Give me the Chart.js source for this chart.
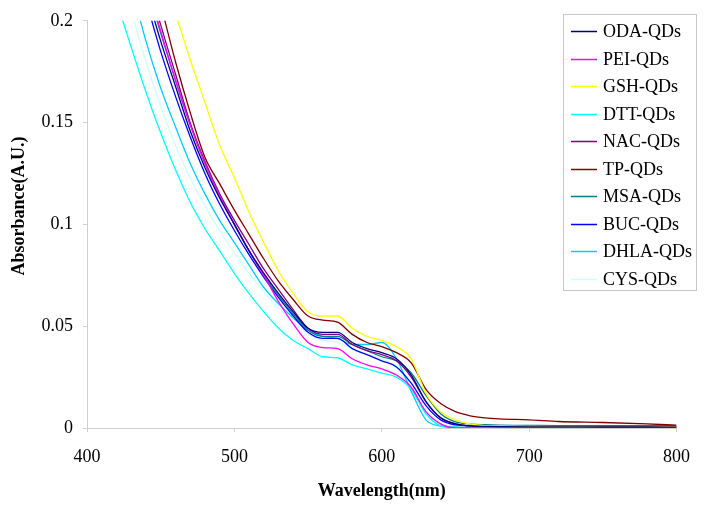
<!DOCTYPE html>
<html>
<head>
  <meta charset="UTF-8">
  <title>QDs absorbance</title>
  <script src="https://cdn.jsdelivr.net/npm/chart.js"></script>
  <style>
    body { margin: 0; background: #fff; }
    #wrap { width: 704px; height: 509px; }
  </style>
</head>
<body>
  <div id="wrap"><canvas id="chart" width="704" height="509"></canvas></div>

  <script>
    // wavelengths (nm) the curves were read at
    const wavelengths = [420, 430, 440, 450, 460, 470, 480, 490, 500, 510, 520, 530, 540, 550, 560, 570,
                         580, 590, 600, 610, 620, 630, 640, 650, 660, 670, 680, 700, 720, 750, 780, 800];

    const odaQDs  = [0.27, 0.24, 0.215, 0.19, 0.168, 0.146, 0.128, 0.113, 0.1, 0.087, 0.076, 0.066, 0.057, 0.049, 0.047, 0.047,
                     0.042, 0.039, 0.037, 0.034, 0.026, 0.013, 0.005, 0.002, 0.001, 0.0008, 0.0007, 0.0006, 0.0006, 0.0005, 0.0005, 0.0004];
    const peiQDs  = [0.28, 0.245, 0.22, 0.195, 0.171, 0.149, 0.13, 0.114, 0.1, 0.087, 0.075, 0.062, 0.051, 0.042, 0.0395, 0.039,
                     0.034, 0.031, 0.029, 0.026, 0.02, 0.008, 0.002, 0, 0, 0, 0, 0, 0, 0, 0, 0];
    const gshQDs  = [0.32, 0.285, 0.255, 0.228, 0.204, 0.181, 0.16, 0.139, 0.123, 0.106, 0.091, 0.077, 0.066, 0.057, 0.055, 0.055,
                     0.049, 0.045, 0.043, 0.04, 0.034, 0.017, 0.008, 0.004, 0.002, 0.0012, 0.001, 0.0008, 0.0007, 0.0006, 0.0005, 0.0005];
    const dttQDs  = [0.21, 0.187, 0.165, 0.145, 0.127, 0.111, 0.098, 0.087, 0.076, 0.066, 0.057, 0.049, 0.043, 0.039, 0.035, 0.0345,
                     0.031, 0.029, 0.027, 0.025, 0.019, 0.007, 0.001, 0, 0, 0, 0, 0, 0, 0, 0, 0];
    const nacQDs  = [0.28, 0.25, 0.224, 0.198, 0.174, 0.15, 0.131, 0.115, 0.102, 0.09, 0.078, 0.068, 0.058, 0.049, 0.046, 0.046,
                     0.041, 0.038, 0.036, 0.033, 0.025, 0.013, 0.005, 0.002, 0.001, 0.0008, 0.0007, 0.0006, 0.0006, 0.0005, 0.0005, 0.0005];
    const tpQDs   = [0.3, 0.265, 0.235, 0.208, 0.18, 0.155, 0.133, 0.12, 0.107, 0.095, 0.083, 0.072, 0.063, 0.055, 0.053, 0.052,
                     0.046, 0.042, 0.04, 0.037, 0.032, 0.019, 0.012, 0.008, 0.006, 0.005, 0.0045, 0.004, 0.0032, 0.0027, 0.002, 0.0014];
    const msaQDs  = [0.275, 0.245, 0.219, 0.194, 0.171, 0.149, 0.13, 0.114, 0.1, 0.087, 0.075, 0.065, 0.056, 0.048, 0.045, 0.045,
                     0.041, 0.038, 0.035, 0.033, 0.027, 0.016, 0.007, 0.003, 0.002, 0.0016, 0.0014, 0.0013, 0.0012, 0.0012, 0.0011, 0.0011];
    const bucQDs  = [0.26, 0.235, 0.21, 0.185, 0.163, 0.143, 0.125, 0.11, 0.097, 0.085, 0.074, 0.064, 0.055, 0.047, 0.044, 0.044,
                     0.039, 0.036, 0.033, 0.03, 0.022, 0.011, 0.004, 0.0015, 0.001, 0.0008, 0.0008, 0.0008, 0.001, 0.0007, 0.0006, 0.0006];
    const dhlaQDs = [0.25, 0.218, 0.19, 0.167, 0.148, 0.13, 0.115, 0.102, 0.091, 0.08, 0.069, 0.061, 0.054, 0.048, 0.045, 0.044,
                     0.041, 0.041, 0.042, 0.034, 0.018, 0.004, 0.001, 0.0005, 0, 0, 0, 0, 0, 0, 0, 0];
    const cysQDs  = [0.235, 0.205, 0.18, 0.158, 0.139, 0.123, 0.109, 0.097, 0.086, 0.076, 0.067, 0.059, 0.052, 0.046, 0.043, 0.042,
                     0.039, 0.036, 0.034, 0.03, 0.02, 0.007, 0.002, 0.001, 0, 0, 0, 0, 0, 0, 0, 0];

    const seriesNames  = ["ODA-QDs", "PEI-QDs", "GSH-QDs", "DTT-QDs", "NAC-QDs", "TP-QDs", "MSA-QDs", "BUC-QDs", "DHLA-QDs", "CYS-QDs"];
    const seriesValues = [odaQDs, peiQDs, gshQDs, dttQDs, nacQDs, tpQDs, msaQDs, bucQDs, dhlaQDs, cysQDs];
    const seriesColors = ["#000080", "#FF00FF", "#FFFF00", "#00FFFF", "#800080", "#800000", "#008080", "#0000FF", "#00CCFF", "#CCFFFF"];

    const yTicks = [0, 0.05, 0.1, 0.15, 0.2];
    const xTicks = [400, 500, 600, 700, 800];

    const serif = "'Liberation Serif', 'Times New Roman', serif";

    // white page behind the chart
    const whiteBg = {
      id: 'whiteBg',
      beforeDraw(chart) {
        const ctx = chart.ctx;
        ctx.save();
        ctx.fillStyle = '#fff';
        ctx.fillRect(0, 0, chart.width, chart.height);
        ctx.restore();
      }
    };

    // legend box inside the plot (top right) + the y title, which sits a bit above centre
    const legendBox = {
      id: 'legendBox',
      afterDraw(chart) {
        const ctx = chart.ctx;
        ctx.save();
        ctx.fillStyle = '#fff';
        ctx.fillRect(563.5, 14.5, 133, 276);
        ctx.strokeStyle = '#c8c8c8';
        ctx.lineWidth = 1;
        ctx.strokeRect(563.5, 14.5, 133, 276);
        ctx.font = "18px " + serif;
        ctx.textBaseline = 'middle';
        ctx.fillStyle = '#000';
        chart.data.datasets.forEach((ds, i) => {
          const y = Math.round(31 + i * 27.5) + 0.5;
          ctx.strokeStyle = ds.borderColor;
          ctx.lineWidth = 1.5;
          ctx.beginPath();
          ctx.moveTo(571, y);
          ctx.lineTo(597, y);
          ctx.stroke();
          ctx.fillText(ds.label, 603, y + 1);
        });

        ctx.translate(19, 206);
        ctx.rotate(-Math.PI / 2);
        ctx.textAlign = 'center';
        ctx.font = "bold 18px " + serif;
        ctx.fillText("Absorbance(A.U.)", 0, 0);
        ctx.restore();
      }
    };

    const datasets = seriesNames.map((name, i) => ({
      label: name,
      data: wavelengths.map((w, j) => ({ x: w, y: seriesValues[i][j] })),
      borderColor: seriesColors[i],
      backgroundColor: seriesColors[i],
      borderWidth: 1.3,
      pointRadius: 0,
      cubicInterpolationMode: 'monotone',
      fill: false
    }));

    new Chart(document.getElementById("chart").getContext("2d"), {
      type: "line",
      data: { datasets: datasets },
      plugins: [whiteBg, legendBox],
      options: {
        responsive: false,
        animation: false,
        layout: { padding: { top: 14, right: 23, left: 0, bottom: 0 } },
        plugins: {
          legend: { display: false },
          tooltip: { enabled: false }
        },
        scales: {
          x: {
            type: "linear",
            min: 400,
            max: 800,
            afterFit: s => { s.height = 81; },
            afterBuildTicks: s => { s.ticks = xTicks.map(v => ({ value: v })); },
            grid: { drawOnChartArea: false, tickLength: 4, color: '#d0d0d0' },
            border: { color: '#d0d0d0' },
            ticks: {
              color: '#000',
              padding: 14,
              maxRotation: 0,
              font: { family: serif, size: 18 }
            },
            title: {
              display: true,
              text: "Wavelength(nm)",
              color: '#000',
              padding: { top: 0, bottom: 7 },
              font: { family: serif, size: 18, weight: 'bold' }
            }
          },
          y: {
            min: 0,
            max: 0.2,
            afterFit: s => { s.width = 87; },
            afterBuildTicks: s => { s.ticks = yTicks.map(v => ({ value: v })); },
            grid: { drawOnChartArea: false, tickLength: 4, color: '#d0d0d0' },
            border: { color: '#d0d0d0' },
            ticks: {
              color: '#000',
              padding: 10,
              font: { family: serif, size: 18 },
              callback: v => String(+v.toFixed(2))
            }
          }
        }
      }
    });
  </script>
</body>
</html>
